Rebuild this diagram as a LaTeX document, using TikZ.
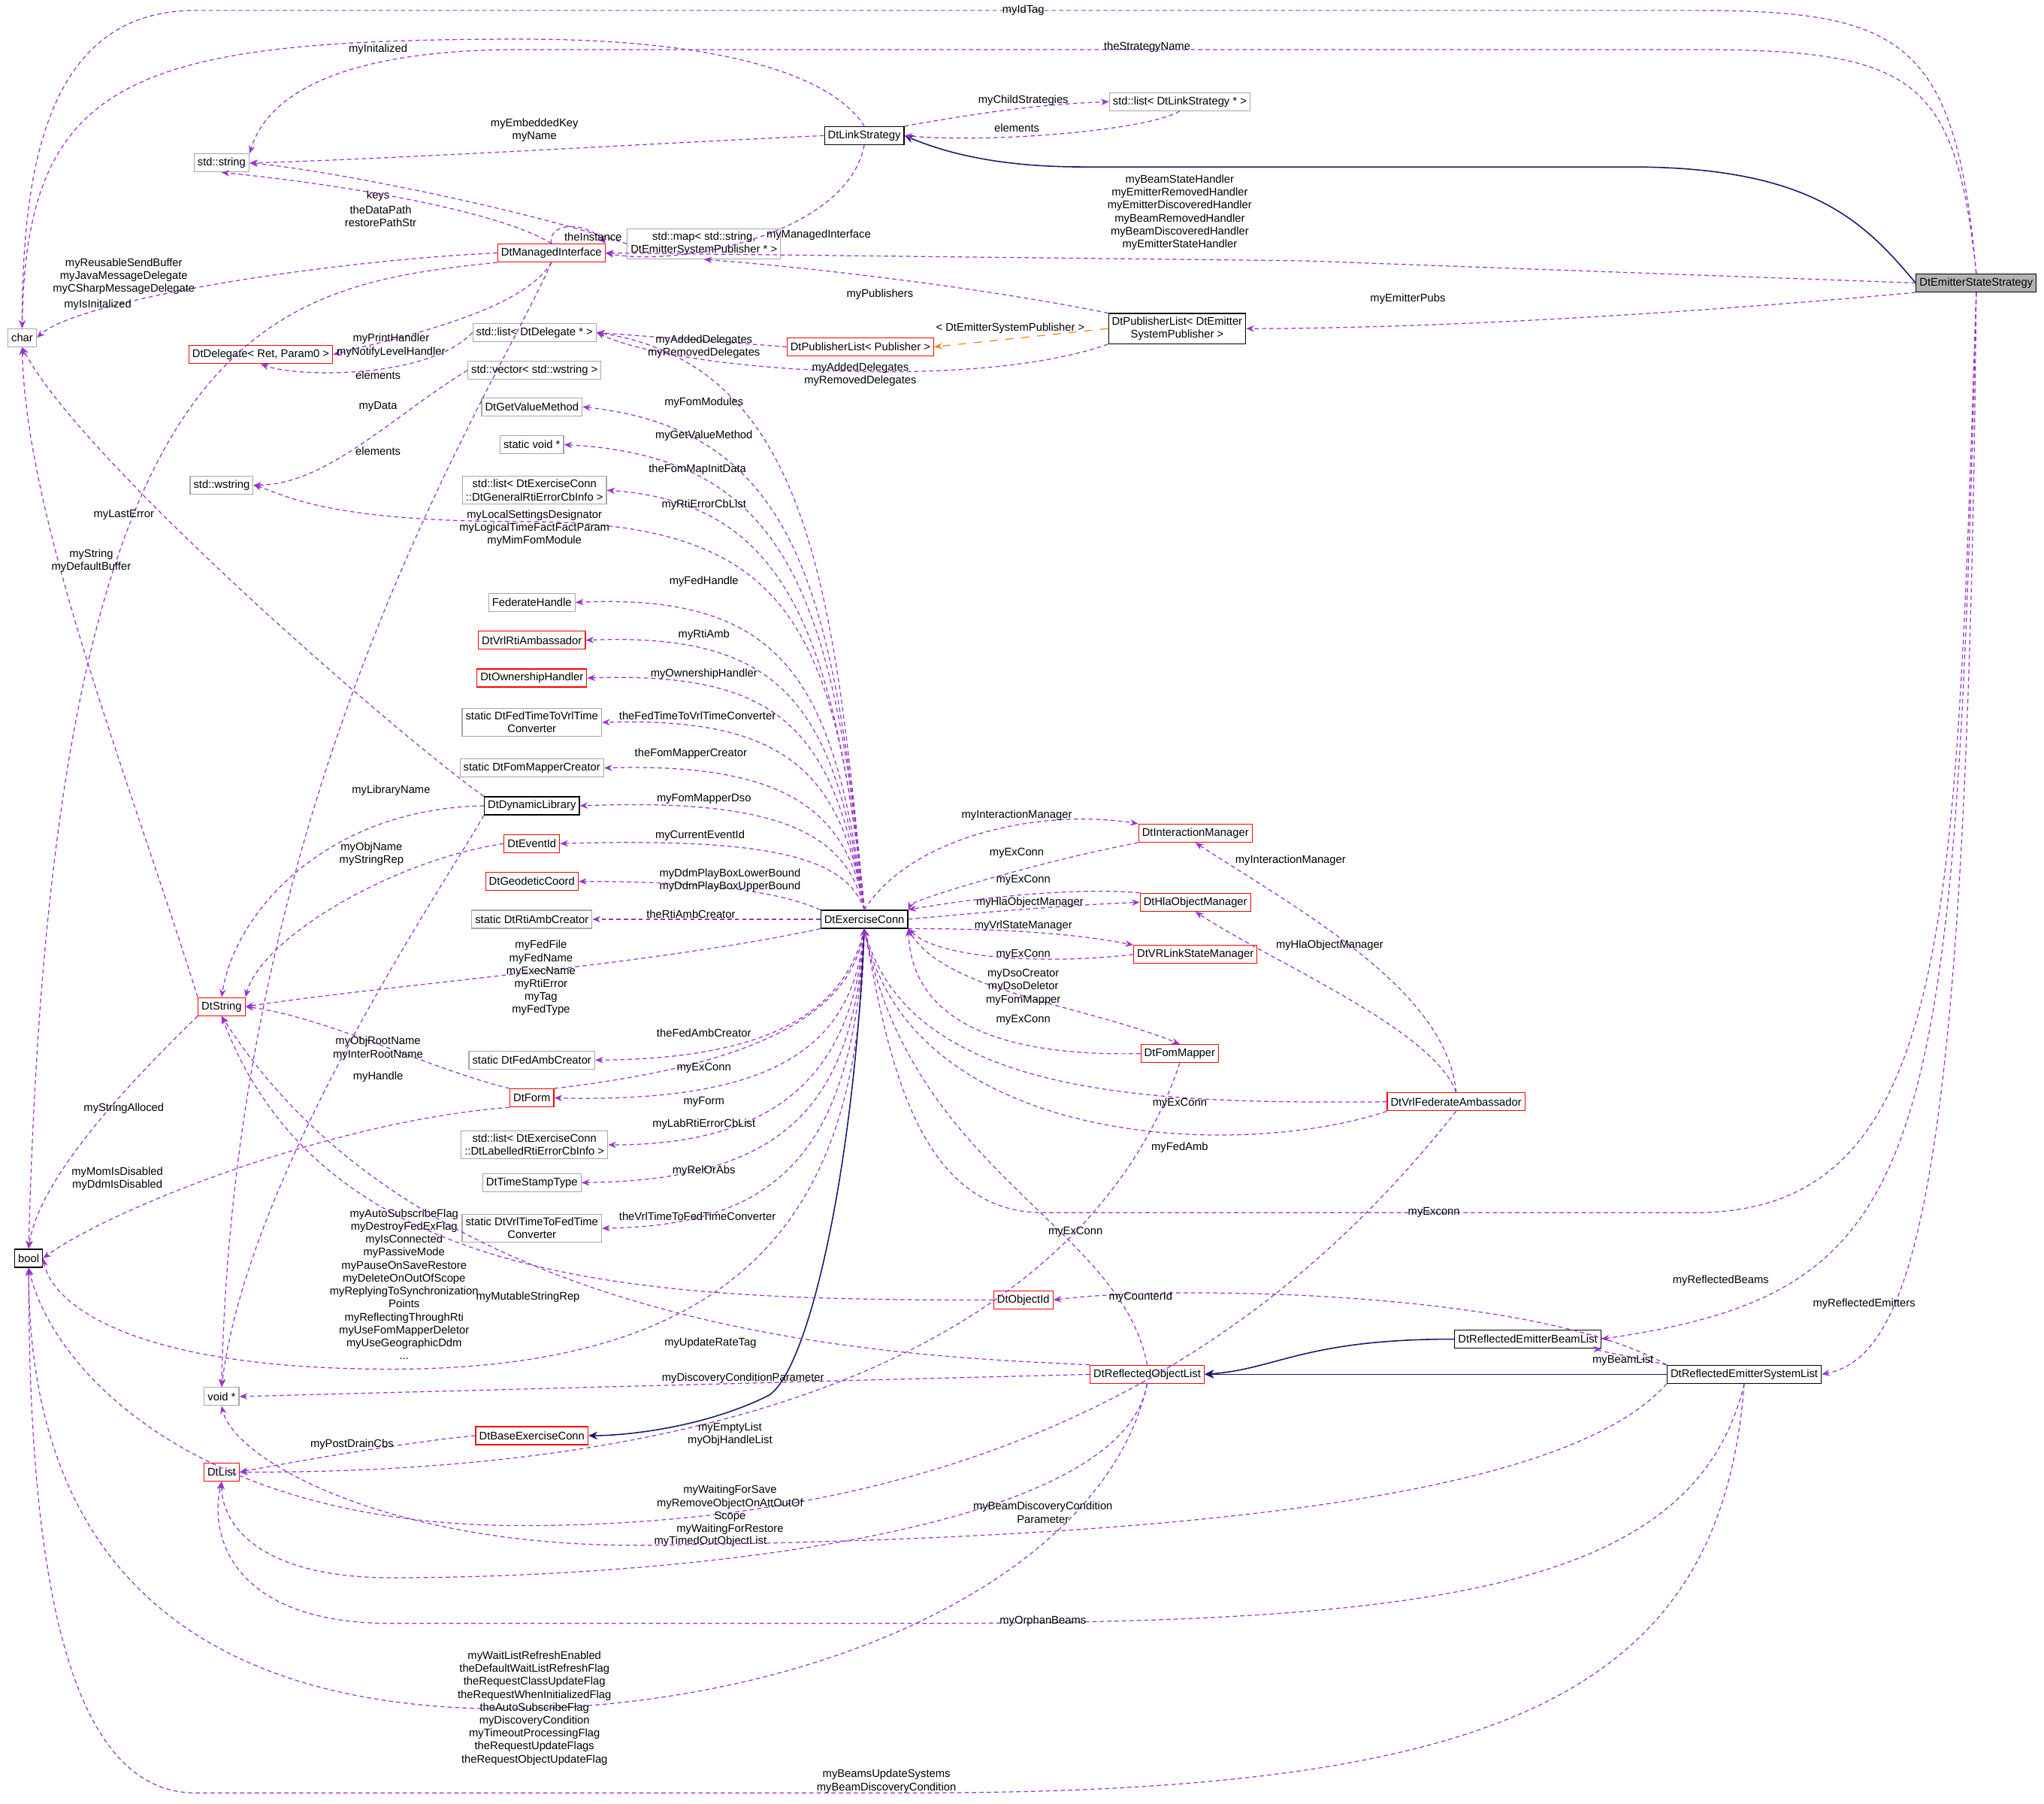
\documentclass[tikz,border=0pt]{standalone}
\usepackage{fontspec}
\setmainfont{Liberation Sans}
\usetikzlibrary{arrows.meta}
\definecolor{rc}{HTML}{9A32CD}
\definecolor{nv}{HTML}{191970}
\begin{document}
\begin{tikzpicture}[x=0.017347cm,y=-0.017347cm,
 every node/.style={font=\fontsize{4.2}{4.9}\selectfont},
 b/.style={draw=black!35,fill=white,inner sep=1.3pt,minimum height=0.24cm,align=center,line width=0.35pt},
 r/.style={b,draw=red},
 k/.style={b,draw=black},
 rel/.style={draw=rc,dashed,line width=0.35pt,dash pattern=on 1.6pt off 1.2pt,-{Stealth[length=3pt,width=2.4pt]}},
 inh/.style={draw=nv,line width=0.45pt,-{Stealth[length=3.4pt,width=3pt]}},
 tmp/.style={draw=orange,dashed,line width=0.35pt,-{Stealth[length=3pt,width=2.4pt]}},
 l/.style={align=center,inner sep=0pt}]
\useasboundingbox (0,0) rectangle (1568,1383);
% nodes
\node[k,fill=black!30] (ess) at (1516,217) {DtEmitterStateStrategy};
\node[k] (lnk) at (663,104) {DtLinkStrategy};
\node[b] (lls) at (905,78) {std::list< DtLinkStrategy * >};
\node[b] (str) at (170,125) {std::string};
\node[b] (map) at (540,187) {std::map< std::string,\\ DtEmitterSystemPublisher * >};
\node[r] (mgi) at (423,194) {DtManagedInterface};
\node[b] (chr) at (17,259) {char};
\node[r] (dlg) at (200,272) {DtDelegate< Ret, Param0 >};
\node[k] (ple) at (903,252) {DtPublisherList< DtEmitter\\ SystemPublisher >};
\node[r] (plp) at (660,266) {DtPublisherList< Publisher >};
\node[b] (lsd) at (410,255) {std::list< DtDelegate * >};
\node[b] (vws) at (410,284) {std::vector< std::wstring >};
\node[b] (gvm) at (408,312) {DtGetValueMethod};
\node[b] (svp) at (408,341) {static void *};
\node[b] (lge) at (410,376) {std::list< DtExerciseConn\\ ::DtGeneralRtiErrorCbInfo >};
\node[b] (wst) at (170,372) {std::wstring};
\node[b] (fh) at (408,462) {FederateHandle};
\node[r] (vra) at (408,491) {DtVrlRtiAmbassador};
\node[r] (own) at (408,520) {DtOwnershipHandler};
\node[b] (sft) at (408,554) {static DtFedTimeToVrlTime\\ Converter};
\node[b] (sfm) at (408,589) {static DtFomMapperCreator};
\node[k] (dyn) at (408,618) {DtDynamicLibrary};
\node[r] (evt) at (408,647) {DtEventId};
\node[r] (geo) at (408,676) {DtGeodeticCoord};
\node[b] (sra) at (408,705) {static DtRtiAmbCreator};
\node[k] (exc) at (663,705) {DtExerciseConn};
\node[r] (dst) at (170,772) {DtString};
\node[b] (sfa) at (408,813) {static DtFedAmbCreator};
\node[r] (frm) at (408,842) {DtForm};
\node[b] (lle) at (410,878) {std::list< DtExerciseConn\\ ::DtLabelledRtiErrorCbInfo >};
\node[b] (tst) at (408,907) {DtTimeStampType};
\node[b] (svf) at (408,942) {static DtVrlTimeToFedTime\\ Converter};
\node[k] (bol) at (22,965) {bool};
\node[b] (vpt) at (170,1071) {void *};
\node[r] (lst) at (170,1129) {DtList};
\node[r] (bex) at (408,1101) {DtBaseExerciseConn};
\node[r] (inm) at (917,639) {DtInteractionManager};
\node[r] (hla) at (917,692) {DtHlaObjectManager};
\node[r] (vls) at (917,732) {DtVRLinkStateManager};
\node[r] (fmm) at (905,808) {DtFomMapper};
\node[r] (vfa) at (1117,845) {DtVrlFederateAmbassador};
\node[r] (oid) at (785,997) {DtObjectId};
\node[k] (rbl) at (1172,1027) {DtReflectedEmitterBeamList};
\node[r] (rol) at (880,1054) {DtReflectedObjectList};
\node[k] (rsl) at (1338,1054) {DtReflectedEmitterSystemList};
% ESS edges
\draw[rel] (ess.north) .. controls (1500,30) and (1460,8) .. (1300,8) -- (150,8) .. controls (40,8) and (17,120) .. (chr.north);
\node[l] at (785,8) {myIdTag};
\draw[rel] (ess.north) .. controls (1500,60) and (1470,38) .. (1300,38) -- (400,38) .. controls (230,38) and (200,90) .. (str.north east);
\node[l] at (880,36) {theStrategyName};
\draw[inh] (ess.west) .. controls (1430,170) and (1390,128) .. (1250,128) -- (830,128) .. controls (760,128) and (720,115) .. (lnk.east);
\draw[rel] (ess.west) -- (1000,200) -- (mgi.east);
\node[l] at (905,163) {myBeamStateHandler\\myEmitterRemovedHandler\\myEmitterDiscoveredHandler\\myBeamRemovedHandler\\myBeamDiscoveredHandler\\myEmitterStateHandler};
\draw[rel] (ess.south west) .. controls (1300,240) and (1100,252) .. (ple.east);
\node[l] at (1080,229) {myEmitterPubs};
\draw[rel] (ess.south) .. controls (1500,700) and (1500,930) .. (1300,930) -- (800,930) .. controls (700,930) and (680,800) .. (exc.south);
\node[l] at (1100,930) {myExconn};
\draw[rel] (ess.south) .. controls (1500,900) and (1480,990) .. (rbl.east);
\node[l] at (1320,982) {myReflectedBeams};
\draw[rel] (ess.south) .. controls (1510,900) and (1470,1040) .. (rsl.east);
\node[l] at (1430,1000) {myReflectedEmitters};
% DtLinkStrategy
\draw[rel] (lnk.north) .. controls (640,60) and (560,30) .. (400,30) .. controls (100,30) and (20,60) .. (chr.north);
\node[l] at (290,38) {myInitalized};
\draw[rel] (lnk.west) .. controls (500,110) and (300,122) .. (str.east);
\node[l] at (410,100) {myEmbeddedKey\\myName};
\draw[rel] (lnk.north east) .. controls (760,85) and (800,80) .. (lls.west);
\node[l] at (785,77) {myChildStrategies};
\draw[rel] (lls.south) .. controls (880,100) and (760,110) .. (lnk.east);
\node[l] at (780,98) {elements};
\draw[rel] (lnk.south) .. controls (650,180) and (520,205) .. (mgi.east);
\node[l] at (628,180) {myManagedInterface};
\draw[rel] (map.west) .. controls (400,160) and (250,130) .. (str.east);
\node[l] at (290,150) {keys};
\draw[rel] (ple.north west) .. controls (750,220) and (620,205) .. (map.south);
\node[l] at (675,226) {myPublishers};
\draw[rel] (ple.south west) .. controls (750,300) and (520,285) .. (lsd.east);
\node[l] at (660,287) {myAddedDelegates\\myRemovedDelegates};
\draw[rel] (plp.west) -- (lsd.east);
\node[l] at (540,266) {myAddedDelegates\\myRemovedDelegates};
\draw[tmp] (ple.west) -- (plp.east);
\node[l] at (775,252) {< DtEmitterSystemPublisher >};
% DtManagedInterface
\draw[rel] (mgi.north) .. controls (380,160) and (250,140) .. (str.south);
\node[l] at (292,166) {theDataPath\\restorePathStr};
\draw[rel] (mgi.north) .. controls (420,170) and (450,170) .. (mgi.north east);
\node[l] at (455,182) {theInstance};
\draw[rel] (mgi.west) .. controls (250,200) and (60,230) .. (chr.east);
\node[l] at (95,212) {myReusableSendBuffer\\myJavaMessageDelegate\\myCSharpMessageDelegate};
\draw[rel] (mgi.south west) .. controls (200,220) and (40,250) .. (bol.north);
\node[l] at (75,234) {myIsInitalized};
\draw[rel] (mgi.south) .. controls (400,240) and (300,260) .. (dlg.east);
\node[l] at (300,265) {myPrintHandler\\myNotifyLevelHandler};
\draw[rel] (lsd.west) .. controls (330,290) and (230,290) .. (dlg.south);
\node[l] at (290,288) {elements};
\draw[rel] (mgi.south) .. controls (380,300) and (180,600) .. (vpt.north);
\node[l] at (290,312) {myData};
\draw[rel] (vws.west) .. controls (300,320) and (250,372) .. (wst.east);
\node[l] at (290,346) {elements};
% DtExerciseConn to left column
\draw[rel] (exc.north) .. controls (640,450) and (620,280) .. (lsd.east);
\node[l] at (540,309) {myFomModules};
\draw[rel] (exc.north) .. controls (640,450) and (610,330) .. (gvm.east);
\node[l] at (540,334) {myGetValueMethod};
\draw[rel] (exc.north) .. controls (640,450) and (600,350) .. (svp.east);
\node[l] at (535,360) {theFomMapInitData};
\draw[rel] (exc.north) .. controls (640,480) and (600,385) .. (lge.east);
\node[l] at (540,387) {myRtiErrorCbList};
\draw[rel] (exc.north) .. controls (640,470) and (600,400) .. (400,400) .. controls (250,400) and (220,380) .. (wst.east);
\node[l] at (410,405) {myLocalSettingsDesignator\\myLogicalTimeFactFactParam\\myMimFomModule};
\draw[rel] (exc.north) .. controls (640,520) and (600,455) .. (fh.east);
\node[l] at (540,446) {myFedHandle};
\draw[rel] (exc.north) .. controls (640,540) and (600,485) .. (vra.east);
\node[l] at (540,487) {myRtiAmb};
\draw[rel] (exc.north) .. controls (640,560) and (600,515) .. (own.east);
\node[l] at (540,517) {myOwnershipHandler};
\draw[rel] (exc.north) .. controls (645,590) and (600,550) .. (sft.east);
\node[l] at (535,549) {theFedTimeToVrlTimeConverter};
\draw[rel] (exc.north) .. controls (650,620) and (600,585) .. (sfm.east);
\node[l] at (530,578) {theFomMapperCreator};
\draw[rel] (exc.north) .. controls (650,640) and (600,612) .. (dyn.east);
\node[l] at (540,613) {myFomMapperDso};
\draw[rel] (exc.north) .. controls (650,660) and (600,642) .. (evt.east);
\node[l] at (537,641) {myCurrentEventId};
\draw[rel] (exc.north west) .. controls (600,685) and (550,676) .. (geo.east);
\node[l] at (560,675) {myDdmPlayBoxLowerBound\\myDdmPlayBoxUpperBound};
\draw[rel] (exc.west) -- (sra.east);
\node[l] at (530,701) {theRtiAmbCreator};
\draw[rel] (exc.south west) .. controls (500,740) and (300,755) .. (dst.east);
\node[l] at (415,750) {myFedFile\\myFedName\\myExecName\\myRtiError\\myTag\\myFedType};
\draw[rel] (exc.south) .. controls (650,770) and (600,812) .. (sfa.east);
\node[l] at (540,792) {theFedAmbCreator};
\draw[rel] (frm.north east) .. controls (550,820) and (650,790) .. (exc.south);
\node[l] at (540,819) {myExConn};
\draw[rel] (exc.south) .. controls (655,800) and (600,846) .. (frm.east);
\node[l] at (540,845) {myForm};
\draw[rel] (exc.south) .. controls (655,820) and (600,878) .. (lle.east);
\node[l] at (540,862) {myLabRtiErrorCbList};
\draw[rel] (exc.south) .. controls (655,850) and (600,905) .. (tst.east);
\node[l] at (540,898) {myRelOrAbs};
\draw[rel] (exc.south) .. controls (655,880) and (600,940) .. (svf.east);
\node[l] at (535,933) {theVrlTimeToFedTimeConverter};
\draw[rel] (exc.south) .. controls (660,900) and (600,1050) .. (300,1050) .. controls (100,1050) and (40,1000) .. (bol.east);
\node[l] at (310,985) {myAutoSubscribeFlag\\myDestroyFedExFlag\\myIsConnected\\myPassiveMode\\myPauseOnSaveRestore\\myDeleteOnOutOfScope\\myReplyingToSynchronization\\Points\\myReflectingThroughRti\\myUseFomMapperDeletor\\myUseGeographicDdm\\...};
\draw[inh] (exc.south) .. controls (655,900) and (620,1050) .. (590,1070) .. controls (540,1095) and (480,1101) .. (bex.east);
% right side managers
\draw[rel] (exc.north) .. controls (700,640) and (800,620) .. (inm.north west);
\node[l] at (780,625) {myInteractionManager};
\draw[rel] (inm.south west) .. controls (800,660) and (700,690) .. (exc.north east);
\node[l] at (780,654) {myExConn};
\draw[rel] (exc.east) .. controls (750,700) and (820,694) .. (hla.west);
\node[l] at (790,692) {myHlaObjectManager};
\draw[rel] (hla.north west) .. controls (820,680) and (740,690) .. (exc.north east);
\node[l] at (785,675) {myExConn};
\draw[rel] (exc.south east) .. controls (760,712) and (820,715) .. (vls.north west);
\node[l] at (785,710) {myVrlStateManager};
\draw[rel] (vls.west) .. controls (800,740) and (720,735) .. (exc.south east);
\node[l] at (785,732) {myExConn};
\draw[rel] (exc.south east) .. controls (720,760) and (830,770) .. (fmm.north);
\node[l] at (785,757) {myDsoCreator\\myDsoDeletor\\myFomMapper};
\draw[rel] (fmm.west) .. controls (780,810) and (700,790) .. (exc.south east);
\node[l] at (785,782) {myExConn};
\draw[rel] (vfa.west) .. controls (900,846) and (700,846) .. (exc.south);
\node[l] at (905,846) {myExConn};
\draw[rel] (vfa.south west) .. controls (950,890) and (700,880) .. (exc.south);
\node[l] at (905,880) {myFedAmb};
\draw[rel] (rol.north) .. controls (860,940) and (700,900) .. (exc.south);
\node[l] at (825,945) {myExConn};
\draw[rel] (vfa.north) .. controls (1110,760) and (1000,700) .. (inm.south);
\node[l] at (990,660) {myInteractionManager};
\draw[rel] (vfa.north) .. controls (1100,790) and (980,740) .. (hla.south);
\node[l] at (1020,725) {myHlaObjectManager};
\draw[rel] (fmm.south) .. controls (860,950) and (700,1130) .. (lst.east);
\node[l] at (560,1100) {myEmptyList\\myObjHandleList};
\draw[rel] (vfa.south) .. controls (1000,1000) and (800,1170) .. (400,1170) .. controls (150,1170) and (40,1050) .. (bol.south);
\node[l] at (560,1158) {myWaitingForSave\\myRemoveObjectOnAttOutOf\\Scope\\myWaitingForRestore};
\draw[rel] (rol.west) .. controls (600,1060) and (300,1068) .. (vpt.east);
\node[l] at (570,1057) {myDiscoveryConditionParameter};
\draw[rel] (rol.north west) .. controls (700,1040) and (330,1030) .. (dst.south);
\node[l] at (545,1030) {myUpdateRateTag};
\draw[rel] (rol.south) .. controls (850,1200) and (650,1300) .. (420,1310) .. controls (150,1320) and (22,1200) .. (bol.south);
\node[l] at (410,1310) {myWaitListRefreshEnabled\\theDefaultWaitListRefreshFlag\\theRequestClassUpdateFlag\\theRequestWhenInitializedFlag\\theAutoSubscribeFlag\\myDiscoveryCondition\\myTimeoutProcessingFlag\\theRequestUpdateFlags\\theRequestObjectUpdateFlag};
\draw[rel] (rol.south) .. controls (860,1180) and (500,1210) .. (300,1210) .. controls (200,1210) and (170,1170) .. (lst.south);
\node[l] at (545,1182) {myTimedOutObjectList};
\draw[rel] (rsl.south west) .. controls (1200,1150) and (900,1180) .. (500,1185) .. controls (300,1188) and (180,1120) .. (vpt.south);
\node[l] at (800,1160) {myBeamDiscoveryCondition\\Parameter};
\draw[rel] (rsl.south) .. controls (1300,1220) and (1100,1245) .. (700,1245) -- (300,1245) .. controls (180,1245) and (160,1180) .. (lst.south);
\node[l] at (800,1243) {myOrphanBeams};
\draw[rel] (rsl.south) .. controls (1320,1300) and (1150,1375) .. (700,1375) -- (150,1375) .. controls (50,1375) and (22,1200) .. (bol.south);
\node[l] at (680,1366) {myBeamsUpdateSystems\\myBeamDiscoveryCondition};
\draw[rel] (oid.west) .. controls (500,997) and (250,990) .. (dst.south);
\node[l] at (405,995) {myMutableStringRep};
\draw[rel] (rsl.north west) .. controls (1180,990) and (900,985) .. (oid.east);
\node[l] at (875,995) {myCounterId};
\draw[rel] (rsl.north west) .. controls (1250,1040) and (1220,1035) .. (rbl.south east);
\node[l] at (1245,1043) {myBeamList};
\draw[inh] (rbl.west) .. controls (1000,1027) and (980,1050) .. (rol.east);
\draw[inh] (rsl.west) -- (rol.east);
\draw[rel] (bex.west) .. controls (320,1105) and (230,1120) .. (lst.east);
\node[l] at (270,1108) {myPostDrainCbs};
% other left
\draw[rel] (dyn.north west) .. controls (300,560) and (60,350) .. (chr.south);
\node[l] at (95,395) {myLastError};
\draw[rel] (dyn.west) .. controls (250,620) and (180,700) .. (dst.north);
\node[l] at (300,606) {myLibraryName};
\draw[rel] (dyn.south west) .. controls (340,680) and (190,900) .. (vpt.north);
\node[l] at (290,826) {myHandle};
\draw[rel] (evt.west) .. controls (300,660) and (200,720) .. (dst.north east);
\node[l] at (285,655) {myObjName\\myStringRep};
\draw[rel] (frm.north west) .. controls (330,820) and (250,780) .. (dst.east);
\node[l] at (290,804) {myObjRootName\\myInterRootName};
\draw[rel] (frm.south west) .. controls (250,860) and (80,930) .. (bol.east);
\node[l] at (90,904) {myMomIsDisabled\\myDdmIsDisabled};
\draw[rel] (dst.north west) .. controls (100,600) and (20,400) .. (chr.south);
\node[l] at (70,430) {myString\\myDefaultBuffer};
\draw[rel] (dst.south west) .. controls (110,820) and (30,900) .. (bol.north);
\node[l] at (95,850) {myStringAlloced};
\end{tikzpicture}
\end{document}
